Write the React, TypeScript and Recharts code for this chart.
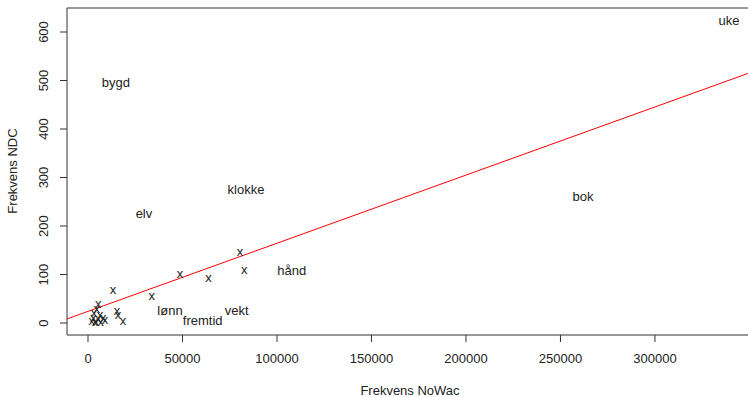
import React from "react";
import {
  ScatterChart,
  Scatter,
  XAxis,
  YAxis,
  ReferenceArea,
  ReferenceLine,
} from "recharts";

// values
const xTicks = [0, 50000, 100000, 150000, 200000, 250000, 300000];
const yTicks = [0, 100, 200, 300, 400, 500, 600];

const markerX = [
  13240, 33700, 48700, 63700, 80400, 82700, 15300, 15900, 18500, 5460, 4600,
  3170, 6350, 2800, 5450, 8100, 1960, 4230, 6720, 9000, 3700,
];
const markerY = [
  66, 54, 99, 92, 145, 108, 24, 16, 3, 37, 27, 20, 16, 10, 8, 10, 3, 0, 0, 5, 1,
];

const labelWords = ["bygd", "elv", "klokke", "hånd", "lønn", "fremtid", "vekt", "bok", "uke"];
const labelX = [14800, 29600, 83600, 107800, 43400, 60700, 78700, 261900, 339200];
const labelY = [497, 225, 276, 108, 25, 6, 25, 262, 623];

const fitIntercept = 24;
const fitSlope = 0.001405;

const X_MIN = -11110;
const X_MAX = 352400;
const Y_MIN = -24.7;
const Y_MAX = 649.5;

const FONT = "'Liberation Sans', Arial, Helvetica, sans-serif";
const INK = "#222";

const markers = markerX.map((x, i) => ({ x, y: markerY[i] }));
const labels = labelWords.map((word, i) => ({ word, x: labelX[i], y: labelY[i] }));

const renderX = (props: any) => (
  <text
    x={props.cx}
    y={props.cy + 3.4}
    textAnchor="middle"
    fontSize={13}
    fontFamily={FONT}
    fill={INK}
  >
    x
  </text>
);

const renderWord = (props: any) => (
  <text
    x={props.cx}
    y={props.cy + 4.6}
    textAnchor="middle"
    fontSize={13}
    fontFamily={FONT}
    fill={INK}
  >
    {props.payload.word}
  </text>
);

const YTick = (props: any) => {
  const { y, payload } = props;
  return (
    <text
      x={48}
      y={y}
      transform={`rotate(-90, 48, ${y})`}
      textAnchor="middle"
      fontSize={13}
      fontFamily={FONT}
      fill={INK}
    >
      {payload.value}
    </text>
  );
};

export default function App() {
  return (
    <div
      style={{
        position: "absolute",
        left: 0,
        top: 0,
        width: 748,
        height: 397,
        overflow: "hidden",
        background: "#fff",
      }}
    >
      <ScatterChart width={756} height={397} margin={{ top: 8, right: 2, bottom: 0, left: 0 }}>
        <XAxis
          type="number"
          dataKey="x"
          domain={[X_MIN, X_MAX]}
          allowDataOverflow
          ticks={xTicks}
          interval={0}
          height={62}
          axisLine={false}
          tickSize={7}
          tickMargin={12}
          tickLine={{ stroke: "#333" }}
          tick={{ fontSize: 13, fontFamily: FONT, fill: INK }}
          label={{
            content: () => (
              <text x={410} y={395} textAnchor="middle" fontSize={13} fontFamily={FONT} fill={INK}>
                Frekvens NoWac
              </text>
            ),
          }}
        />
        <YAxis
          type="number"
          dataKey="y"
          domain={[Y_MIN, Y_MAX]}
          allowDataOverflow
          ticks={yTicks}
          interval={0}
          width={67}
          axisLine={false}
          tickSize={7}
          tickLine={{ stroke: "#333" }}
          tick={<YTick />}
          label={{
            content: () => (
              <text
                x={17}
                y={171}
                transform="rotate(-90, 17, 171)"
                textAnchor="middle"
                fontSize={13}
                fontFamily={FONT}
                fill={INK}
              >
                Frekvens NDC
              </text>
            ),
          }}
        />
        <ReferenceArea
          x1={X_MIN}
          x2={X_MAX}
          y1={Y_MIN}
          y2={Y_MAX}
          fill="none"
          fillOpacity={0}
          stroke="#333"
          strokeWidth={1}
          ifOverflow="visible"
        />
        <ReferenceLine
          segment={[
            { x: X_MIN, y: fitIntercept + fitSlope * X_MIN },
            { x: X_MAX, y: fitIntercept + fitSlope * X_MAX },
          ]}
          stroke="#ff0000"
          strokeWidth={1}
          ifOverflow="visible"
        />
        <Scatter data={markers} shape={renderX} isAnimationActive={false} />
        <Scatter data={labels} shape={renderWord} isAnimationActive={false} />
      </ScatterChart>
    </div>
  );
}
